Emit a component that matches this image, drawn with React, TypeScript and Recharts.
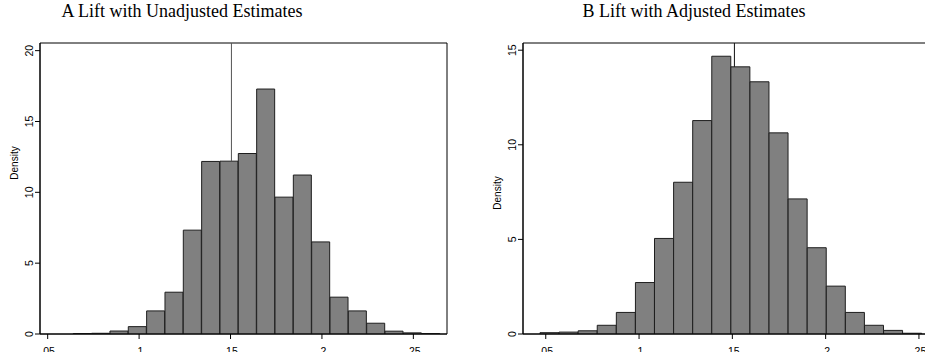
import React from 'react';
import { BarChart, Bar, XAxis, YAxis, ReferenceLine, ReferenceArea, Label } from 'recharts';

// x ticks shared by both panels
const X_TICKS = [0.05, 0.1, 0.15, 0.2, 0.25];
const X_LABELS = ['.05', '.1', '.15', '.2', '.25'];

// Panel A: unadjusted lift estimates (density per bin)
const BIN_START_A = 0.064;
const BIN_WIDTH_A = 0.01003;
const DENSITY_A = [
    0.03, 0.05, 0.21, 0.52, 1.63, 2.95, 7.33, 12.18, 12.2, 12.74,
    17.29, 9.66, 11.22, 6.5, 2.6, 1.63, 0.76, 0.2, 0.08, 0.03,
];
const Y_TICKS_A = [0, 5, 10, 15, 20];
const MARK_A = 0.1505;

// Panel B: adjusted lift estimates
const BIN_START_B = 0.0469;
const BIN_WIDTH_B = 0.01023;
const DENSITY_B = [
    0.07, 0.1, 0.17, 0.46, 1.14, 2.72, 5.05, 8.02, 11.28, 14.68,
    14.12, 13.33, 10.63, 7.14, 4.56, 2.53, 1.14, 0.46, 0.19, 0.04,
];
const Y_TICKS_B = [0, 5, 10, 15];
const MARK_B = 0.1511;

const AXIS_FONT = '"Liberation Sans", Arial, sans-serif';

function makeBins(start: number, width: number, values: number[]) {
    return values.map((d, i) => ({ mid: start + (i + 0.5) * width, d }));
}

function YTick(props: any) {
    const { x, y, payload } = props;
    return (
        <text
            x={x}
            y={y}
            transform={`rotate(-90 ${x} ${y})`}
            textAnchor="middle"
            fontSize={10.5}
            fontFamily={AXIS_FONT}
            fill="#000"
        >
            {payload.value}
        </text>
    );
}

function XTick(props: any) {
    const { x, y, payload } = props;
    const idx = X_TICKS.indexOf(payload.value);
    return (
        <text x={x} y={y} dy={14} textAnchor="middle" fontSize={10.5} fontFamily={AXIS_FONT} fill="#000">
            {idx >= 0 ? X_LABELS[idx] : payload.value}
        </text>
    );
}

interface PanelProps {
    start: number;
    width: number;
    values: number[];
    yTicks: number[];
    xDomain: [number, number];
    yMax: number;
    mark: number;
    markColor: string;
    chartWidth: number;
    axisWidth: number;
    rightMargin: number;
    densityY: number;
}

function Histogram(p: PanelProps) {
    const data = makeBins(p.start, p.width, p.values);
    const markBin = Math.min(p.values.length - 1, Math.max(0, Math.floor((p.mark - p.start) / p.width)));
    const markBase = p.values[markBin];

    return (
        <BarChart
            width={p.chartWidth}
            height={352}
            data={data}
            margin={{ top: 43, right: p.rightMargin, bottom: 0, left: 0 }}
            barCategoryGap={0}
            barGap={0}
        >
            <XAxis
                dataKey="mid"
                type="number"
                domain={p.xDomain}
                allowDataOverflow
                ticks={X_TICKS}
                interval={0}
                height={18}
                tickSize={5}
                tick={<XTick />}
                stroke="#000"
            />
            <YAxis
                type="number"
                domain={[0, p.yMax]}
                allowDataOverflow
                ticks={p.yTicks}
                interval={0}
                width={p.axisWidth}
                tickSize={5}
                tick={<YTick />}
                stroke="#000"
            >
                <Label
                    content={(lp: any) => {
                        const vb = lp.viewBox || {};
                        const lx = (vb.x || 0) + p.axisWidth - 22;
                        return (
                            <text
                                x={lx}
                                y={p.densityY}
                                transform={`rotate(-90 ${lx} ${p.densityY})`}
                                textAnchor="middle"
                                fontSize={10}
                                fontFamily={AXIS_FONT}
                                fill="#000"
                            >
                                Density
                            </text>
                        );
                    }}
                />
            </YAxis>
            <ReferenceArea
                x1={p.xDomain[0]}
                x2={p.xDomain[1]}
                y1={0}
                y2={p.yMax}
                fill="none"
                stroke="#000"
                strokeWidth={1}
                ifOverflow="visible"
            />
            <ReferenceLine
                segment={[
                    { x: p.mark, y: markBase },
                    { x: p.mark, y: p.yMax },
                ]}
                stroke={p.markColor}
                strokeWidth={1}
            />
            <Bar
                dataKey="d"
                fill="#808080"
                stroke="#1e1e1e"
                strokeWidth={1}
                isAnimationActive={false}
            />
        </BarChart>
    );
}

const titleStyle: React.CSSProperties = {
    position: 'absolute',
    top: 1,
    fontFamily: '"Liberation Serif", "Times New Roman", serif',
    fontSize: 18,
    color: '#000',
    textAlign: 'center',
    whiteSpace: 'nowrap',
};

export default function App() {
    return (
        <div
            style={{
                position: 'fixed',
                left: 0,
                top: 0,
                width: 925,
                height: 352,
                overflow: 'hidden',
                background: '#fff',
            }}
        >
            <div style={{ ...titleStyle, left: 32, width: 300 }}>A Lift with Unadjusted Estimates</div>
            <div style={{ ...titleStyle, left: 544, width: 300 }}>B Lift with Adjusted Estimates</div>

            <div style={{ position: 'absolute', left: 0, top: 0 }}>
                <Histogram
                    start={BIN_START_A}
                    width={BIN_WIDTH_A}
                    values={DENSITY_A}
                    yTicks={Y_TICKS_A}
                    xDomain={[0.0458, 0.2684]}
                    yMax={20.54}
                    mark={MARK_A}
                    markColor="#555"
                    chartWidth={460}
                    axisWidth={40}
                    rightMargin={13}
                    densityY={163}
                />
            </div>
            <div style={{ position: 'absolute', left: 480, top: 0 }}>
                <Histogram
                    start={BIN_START_B}
                    width={BIN_WIDTH_B}
                    values={DENSITY_B}
                    yTicks={Y_TICKS_B}
                    xDomain={[0.0378, 0.2586]}
                    yMax={15.38}
                    mark={MARK_B}
                    markColor="#111"
                    chartWidth={455}
                    axisWidth={43}
                    rightMargin={0}
                    densityY={193}
                />
            </div>
        </div>
    );
}
